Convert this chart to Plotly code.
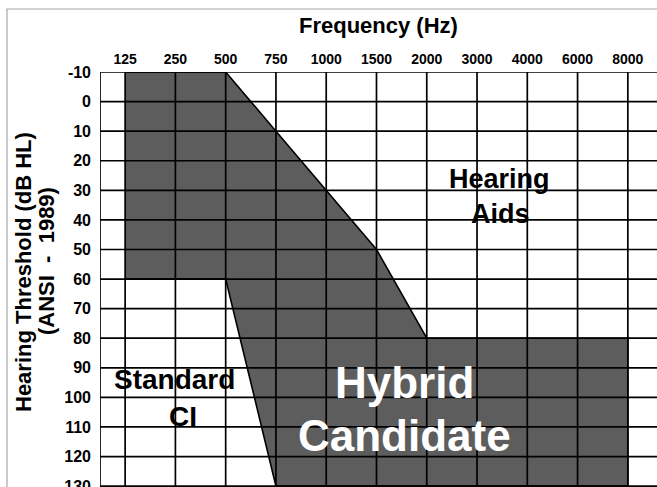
import plotly.graph_objects as go

# ---- data ----
frequencies = ["125", "250", "500", "750", "1000", "1500", "2000", "3000", "4000", "6000", "8000"]
thresholds = list(range(-10, 131, 10))
threshold_labels = [str(t) for t in thresholds]

# Hybrid-candidate region boundary (frequency category, dB HL)
region_freq = ["125", "500", "750", "1000", "1500", "2000", "8000", "8000", "750", "500", "125"]
region_db = [-10, -10, 10, 30, 50, 80, 80, 130, 130, 60, 60]

FONT = "Liberation Sans, Arial, Helvetica, sans-serif"
W, H = 657, 487
ML, MT = 100, 72
PW, PH = W - ML, H - MT
X_MAX = 10.58
Y_BOTTOM = 130.3


def px_to_idx(px):
    return -0.5 + (px - ML) * (X_MAX + 0.5) / PW


def py_to_db(py):
    return -10 + (py - MT) * (Y_BOTTOM + 10) / PH


def paper_x(px):
    return (px - ML) / PW


def paper_y(py):
    return (H - py) / PH


fig = go.Figure()
fig.add_trace(go.Scatter(
    x=region_freq, y=region_db,
    mode="lines", fill="toself",
    fillcolor="#5d5d5d",
    line=dict(color="black", width=1.6),
    hoverinfo="skip", showlegend=False,
))

shapes = []
for xi in [-0.5] + list(range(len(frequencies))):
    shapes.append(dict(type="line", xref="x", yref="y", x0=xi, x1=xi, y0=-10, y1=Y_BOTTOM,
                       line=dict(color="black", width=1.7), layer="above"))
for t in thresholds:
    shapes.append(dict(type="line", xref="x", yref="y", x0=-0.5, x1=X_MAX, y0=t, y1=t,
                       line=dict(color="black", width=1.7), layer="above"))
shapes.append(dict(type="rect", xref="paper", yref="paper",
                   x0=paper_x(7), x1=1.05, y0=-0.2, y1=paper_y(9),
                   line=dict(color="#a8a8a8", width=1.2), layer="below"))

annotations = []


def add_text(text, px, baseline, size, color="black"):
    cy = baseline - 0.32 * size
    annotations.append(dict(text=f"<b>{text}</b>", x=px_to_idx(px), y=py_to_db(cy),
                            xref="x", yref="y", showarrow=False,
                            font=dict(family=FONT, size=size, color=color),
                            xanchor="center", yanchor="middle"))


add_text("Hybrid", 404.5, 397, 44, "white")
add_text("Candidate", 404.5, 450, 44, "white")
add_text("Standard", 174.5, 388, 28)
add_text("CI", 182.5, 425, 28)
add_text("Hearing", 499.5, 188, 27)
add_text("Aids", 500, 223, 27)

annotations.append(dict(text="<b>Frequency (Hz)</b>", x=paper_x(378), y=paper_y(25),
                        xref="paper", yref="paper", showarrow=False,
                        font=dict(family=FONT, size=22, color="black"),
                        xanchor="center", yanchor="middle"))
annotations.append(dict(text="<b>Hearing Threshold (dB HL)</b>", x=paper_x(23), y=paper_y(272),
                        xref="paper", yref="paper", showarrow=False, textangle=-90,
                        font=dict(family=FONT, size=22, color="black"),
                        xanchor="center", yanchor="middle"))
annotations.append(dict(text="<b>(ANSI&nbsp;&nbsp;-&nbsp;&nbsp;1989)</b>", x=paper_x(46), y=paper_y(261),
                        xref="paper", yref="paper", showarrow=False, textangle=-90,
                        font=dict(family=FONT, size=22, color="black"),
                        xanchor="center", yanchor="middle"))

fig.update_layout(
    width=W, height=H,
    margin=dict(l=ML, r=0, t=MT, b=0, pad=0, autoexpand=False),
    paper_bgcolor="white", plot_bgcolor="white",
    showlegend=False,
    shapes=shapes,
    annotations=annotations,
    xaxis=dict(type="category", categoryorder="array", categoryarray=frequencies,
               range=[-0.5, X_MAX], side="top", showgrid=False, zeroline=False,
               showline=False, ticks="", tickvals=frequencies, automargin=False,
               ticklabelstandoff=4,
               tickfont=dict(family=FONT, size=14, color="black", weight="bold")),
    yaxis=dict(range=[Y_BOTTOM, -10], tickvals=thresholds, ticktext=threshold_labels,
               showgrid=False, zeroline=False, ticklabeloverflow="allow", automargin=False,
               showline=False, ticks="", ticklabelstandoff=8,
               tickfont=dict(family=FONT, size=16, color="black", weight="bold")),
)

fig.write_html("out.html", config={"displayModeBar": False},
               post_script="document.body.style.margin='0';document.body.style.overflow='hidden';")
